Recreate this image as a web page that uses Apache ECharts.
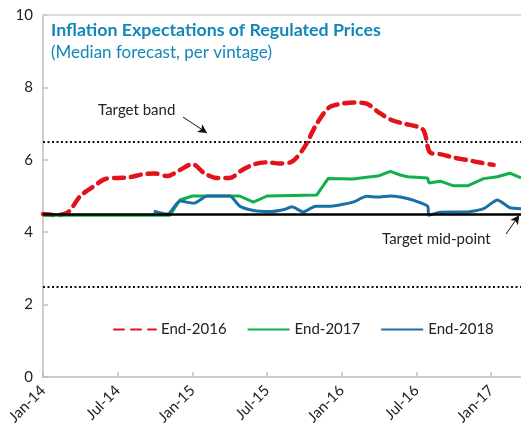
<!DOCTYPE html>
<html><head><meta charset="utf-8">
<script src="https://cdn.jsdelivr.net/npm/echarts@6/dist/echarts.min.js"></script>
<style>html,body{margin:0;padding:0;background:#fff}#c{width:521px;height:430px}</style>
</head><body><div id="c"></div>
<script>
// month offsets from Jan-14
var tickLabels = ['Jan-14','Jul-14','Jan-15','Jul-15','Jan-16','Jul-16','Jan-17'];
var end2016X = [0,1,2,3,4,5,6,7,8,9,10,11,12,13,14,15,16,17,18,19,20,21,22,23,24,25,26,27,28,29,30,30.6,31.1,32,33,34,35,36.2];
var end2016Y = [4.5,4.47,4.55,5.0,5.25,5.47,5.5,5.52,5.6,5.62,5.55,5.72,5.88,5.62,5.5,5.5,5.72,5.88,5.93,5.9,5.95,6.35,7.0,7.45,7.55,7.58,7.55,7.3,7.1,7.0,6.92,6.8,6.2,6.15,6.06,6.0,5.93,5.86];
var end2017X = [0,10.2,11,12,15.8,16.9,18,22,22.9,24.9,26,26.9,27.9,28.7,29.3,30.9,31,31.9,33,34.1,35.4,36.5,37.5,38.4];
var end2017Y = [4.47,4.47,4.89,5.0,5.0,4.83,5.0,5.03,5.48,5.47,5.52,5.55,5.68,5.58,5.53,5.5,5.36,5.41,5.28,5.28,5.48,5.53,5.63,5.5];
var end2018X = [8.9,10,11,12.1,13.2,15,15.8,16.9,18.2,19.3,20,20.9,21.9,23.1,24.9,26,26.9,27.9,28.7,29.7,30.9,31,31.9,34.1,35.4,36.5,37.5,38.4];
var end2018Y = [4.58,4.5,4.86,4.8,5.0,5.0,4.72,4.6,4.57,4.62,4.7,4.56,4.72,4.72,4.83,4.99,4.97,5.0,4.97,4.89,4.72,4.47,4.55,4.56,4.65,4.89,4.68,4.65];
var targetMid = 4.5, bandHigh = 6.5, bandLow = 2.5;

function pairs(xs, ys){ return xs.map(function(x,i){return [x, ys[i]];}); }

var FONT = 'Lato, "Open Sans", sans-serif';
var chart = echarts.init(document.getElementById('c'), null, {renderer:'canvas'});
chart.setOption({
  animation:false,
  textStyle:{fontFamily:FONT},
  grid:{left:43, right:0, top:15, bottom:53, containLabel:false},
  xAxis:{type:'value', min:0, max:38.4, interval:6,
    axisLine:{lineStyle:{color:'#BFBFBF', width:1.5}},
    axisTick:{inside:true, length:5, lineStyle:{color:'#BFBFBF', width:1.5}},
    splitLine:{show:false},
    axisLabel:{rotate:45, color:'#222', fontSize:15, fontFamily:FONT, margin:11,
      showMaxLabel:false,
      formatter:function(v){ var i=v/6; return (Math.abs(i-Math.round(i))<1e-6 && tickLabels[Math.round(i)]) ? tickLabels[Math.round(i)] : ''; }}
  },
  yAxis:{type:'value', min:0, max:10, interval:2,
    axisLine:{show:true, lineStyle:{color:'#BFBFBF', width:1.5}},
    axisTick:{show:true, inside:true, length:5, lineStyle:{color:'#BFBFBF', width:1.5}},
    splitLine:{show:false},
    axisLabel:{color:'#222', fontSize:15, fontFamily:FONT, margin:10}
  },
  legend:{left:108, top:317, itemWidth:42, itemHeight:4, itemGap:20,
    itemStyle:{opacity:0},
    textStyle:{fontSize:15, color:'#222', fontFamily:FONT},
    data:['End-2016','End-2017','End-2018']},
  graphic:[
    {type:'text', left:51, top:21, style:{text:'Inflation Expectations of Regulated Prices', font:'bold 17.8px '+FONT, fill:'#1287B8'}},
    {type:'text', left:51, top:44, style:{text:'(Median forecast, per vintage)', font:'17px '+FONT, fill:'#1287B8'}},
    {type:'text', left:98, top:103, style:{text:'Target band', font:'15px '+FONT, fill:'#222'}},
    {type:'text', left:382, top:232, style:{text:'Target mid-point', font:'15px '+FONT, fill:'#222'}}
  ],
  series:[
    {type:'line', name:'ref', data:[], silent:true, z:1,
      markLine:{silent:true, symbol:'none', animation:false, label:{show:false},
        data:[
          {yAxis:10, lineStyle:{color:'#D0D0D0', width:1.5, type:'solid'}},
          {yAxis:bandHigh, lineStyle:{color:'#111', width:2, type:[2,2.5]}},
          {yAxis:bandLow, lineStyle:{color:'#111', width:2, type:[2,2.5]}},
          {yAxis:targetMid, lineStyle:{color:'#000', width:2.5, type:'solid'}},
          [{coord:[11.25,7.18], symbol:'none'},{coord:[13.18,6.74], symbol:'arrow', symbolSize:[7,9], lineStyle:{color:'#111', width:1, type:'solid'}}],
          [{coord:[37.2,3.95], symbol:'none'},{coord:[38.26,4.47], symbol:'arrow', symbolSize:[7,9], lineStyle:{color:'#111', width:1, type:'solid'}}]
        ]}
    },
    {type:'line', name:'End-2016', data:pairs(end2016X,end2016Y), symbol:'none', smooth:0.3, z:3,
      color:'#E3121B', lineStyle:{color:'#E3121B', width:4.5, type:[10,7], cap:'round'}},
    {type:'line', name:'End-2017', data:pairs(end2017X,end2017Y), symbol:'none', z:3,
      color:'#12B04C', lineStyle:{color:'#12B04C', width:3}},
    {type:'line', name:'End-2018', data:pairs(end2018X,end2018Y), symbol:'none', smooth:0.2, z:4,
      color:'#1A6FA6', lineStyle:{color:'#1A6FA6', width:3}}
  ]
});
</script></body></html>
